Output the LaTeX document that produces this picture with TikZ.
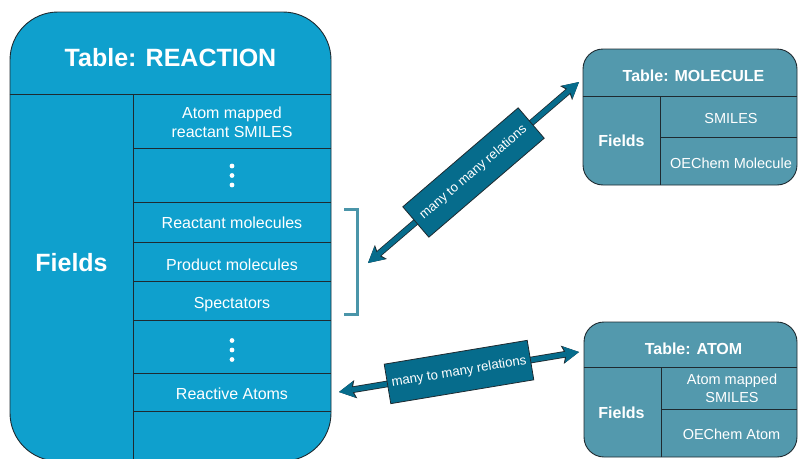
\documentclass[tikz,border=0pt]{standalone}
\usepackage{fontspec}
\setmainfont{Liberation Sans}
\usetikzlibrary{positioning,arrows.meta}

\definecolor{rxnblue}{HTML}{0FA0CD}
\definecolor{tblteal}{HTML}{5399AD}
\definecolor{relblue}{HTML}{066C8C}
\definecolor{brackteal}{HTML}{4A95A9}
\definecolor{edge}{HTML}{1E2A30}

\begin{document}
\begin{tikzpicture}[
  x=1pt, y=-1pt,
  bigtable/.style={draw=edge, line width=0.9pt, fill=rxnblue, rounded corners=48pt, inner sep=0pt},
  smalltable/.style={draw=edge, line width=0.9pt, fill=tblteal, rounded corners=20pt, inner sep=0pt},
  divider/.style={draw=edge, line width=0.8pt},
  bighead/.style={text=white, font=\fontsize{25}{30}\selectfont\bfseries, anchor=base},
  smallhead/.style={text=white, font=\fontsize{16}{19}\selectfont\bfseries, anchor=base},
  field/.style={text=white, align=center, font=\fontsize{16}{19}\selectfont, anchor=base},
  smallfield/.style={text=white, align=center, font=\fontsize{14.5}{17.5}\selectfont, anchor=base},
  dot/.style={circle, fill=white, inner sep=0pt, minimum size=4.8pt},
  bracket/.style={draw=brackteal, line width=3pt},
  relation/.style={line width=5pt, draw=relblue,
    {Stealth[length=15.5pt,width=16.5pt,inset=3pt,line width=0pt]}-{Stealth[length=15.5pt,width=16.5pt,inset=3pt,line width=0pt]},
    preaction={draw=edge, line width=6.6pt,
      {Stealth[length=17pt,width=18.5pt,inset=3.4pt,line width=0pt]}-{Stealth[length=17pt,width=18.5pt,inset=3.4pt,line width=0pt]}}},
  relbox/.style={fill=relblue, draw=edge, line width=0.8pt, text=white, minimum width=148pt,
    minimum height=40pt, inner sep=0pt, font=\fontsize{13.2}{15}\selectfont, sloped}
]
\useasboundingbox (0,0) rectangle (798,458);
\clip (0,0) rectangle (798,458);

% ======================================================
% =============== REACTION =============================
% ======================================================
\node (rxn) [bigtable, minimum width=321pt, minimum height=449pt] at (170.5,236.5) {};
\draw[divider] (rxn.west |- 0,94) -- (rxn.east |- 0,94);
\draw[divider] (133,94) -- (133,461);
\foreach \y in {148,202,242,281,320,373,411}
  \draw[divider] (133,\y) -- (rxn.east |- 0,\y);

\node (rxnhead) [bighead] at (170.5,66.5) {Table: REACTION};
\node (rxnfields) [bighead] at (71.5,271) {Fields};

\node (rxnsmiles) [field, anchor=center] at (232,122.5) {Atom mapped\\reactant SMILES};
\node (rxnreact) [field] at (232,228) {Reactant molecules};
\node (rxnprod) [field] at (232,270) {Product molecules};
\node (rxnspec) [field] at (232,308) {Spectators};
\node (rxnatoms) [field] at (232,399) {Reactive Atoms};

% dots for the fields left out
\foreach \y in {166,175.5,185,340.5,350,359.5}
  \node (dot\y) [dot] at (232,\y) {};

% bracket round the molecule fields
\draw[bracket] (344,209) -- (357,209) -- (357,314) -- (344,314);

% ======================================================
% =============== MOLECULE =============================
% ======================================================
\node (mol) [smalltable, minimum width=214pt, minimum height=136pt] at (690,117) {};
\draw[divider] (mol.west |- 0,96) -- (mol.east |- 0,96);
\draw[divider] (660,96) -- (mol.south -| 660,0);
\draw[divider] (660,137) -- (mol.east |- 0,137);

\node (molhead) [smallhead] at (693.5,81) {Table: MOLECULE};
\node (molfields) [smallhead] at (621.5,146) {Fields};
\node (molsmiles) [smallfield] at (731,123) {SMILES};
\node (moloe) [smallfield] at (731,168) {OEChem Molecule};

% ======================================================
% =============== ATOM =================================
% ======================================================
\node (atm) [smalltable, minimum width=213pt, minimum height=135pt] at (690.5,389.5) {};
\draw[divider] (atm.west |- 0,367) -- (atm.east |- 0,367);
\draw[divider] (661,367) -- (atm.south -| 661,0);
\draw[divider] (661,409) -- (atm.east |- 0,409);

\node (atmhead) [smallhead] at (693.5,354) {Table: ATOM};
\node (atmfields) [smallhead] at (621.5,418) {Fields};
\node (atmsmiles) [smallfield] at (732,402) {Atom mapped\\SMILES};
\node (atmoe) [smallfield] at (731.5,439) {OEChem Atom};

% ======================================================
% =============== RELATIONS ============================
% ======================================================
\coordinate (molend) at (368,263);
\coordinate (molin) at (579,82);
\coordinate (atmend) at (339,392);
\coordinate (atmin) at (579,352);

\draw[relation] (molend) -- node (molrel) [relbox, minimum width=152pt] {many to many relations} (molin);
\draw[relation] (atmend) -- node (atmrel) [relbox, minimum width=145pt] {many to many relations} (atmin);

\end{tikzpicture}
\end{document}
